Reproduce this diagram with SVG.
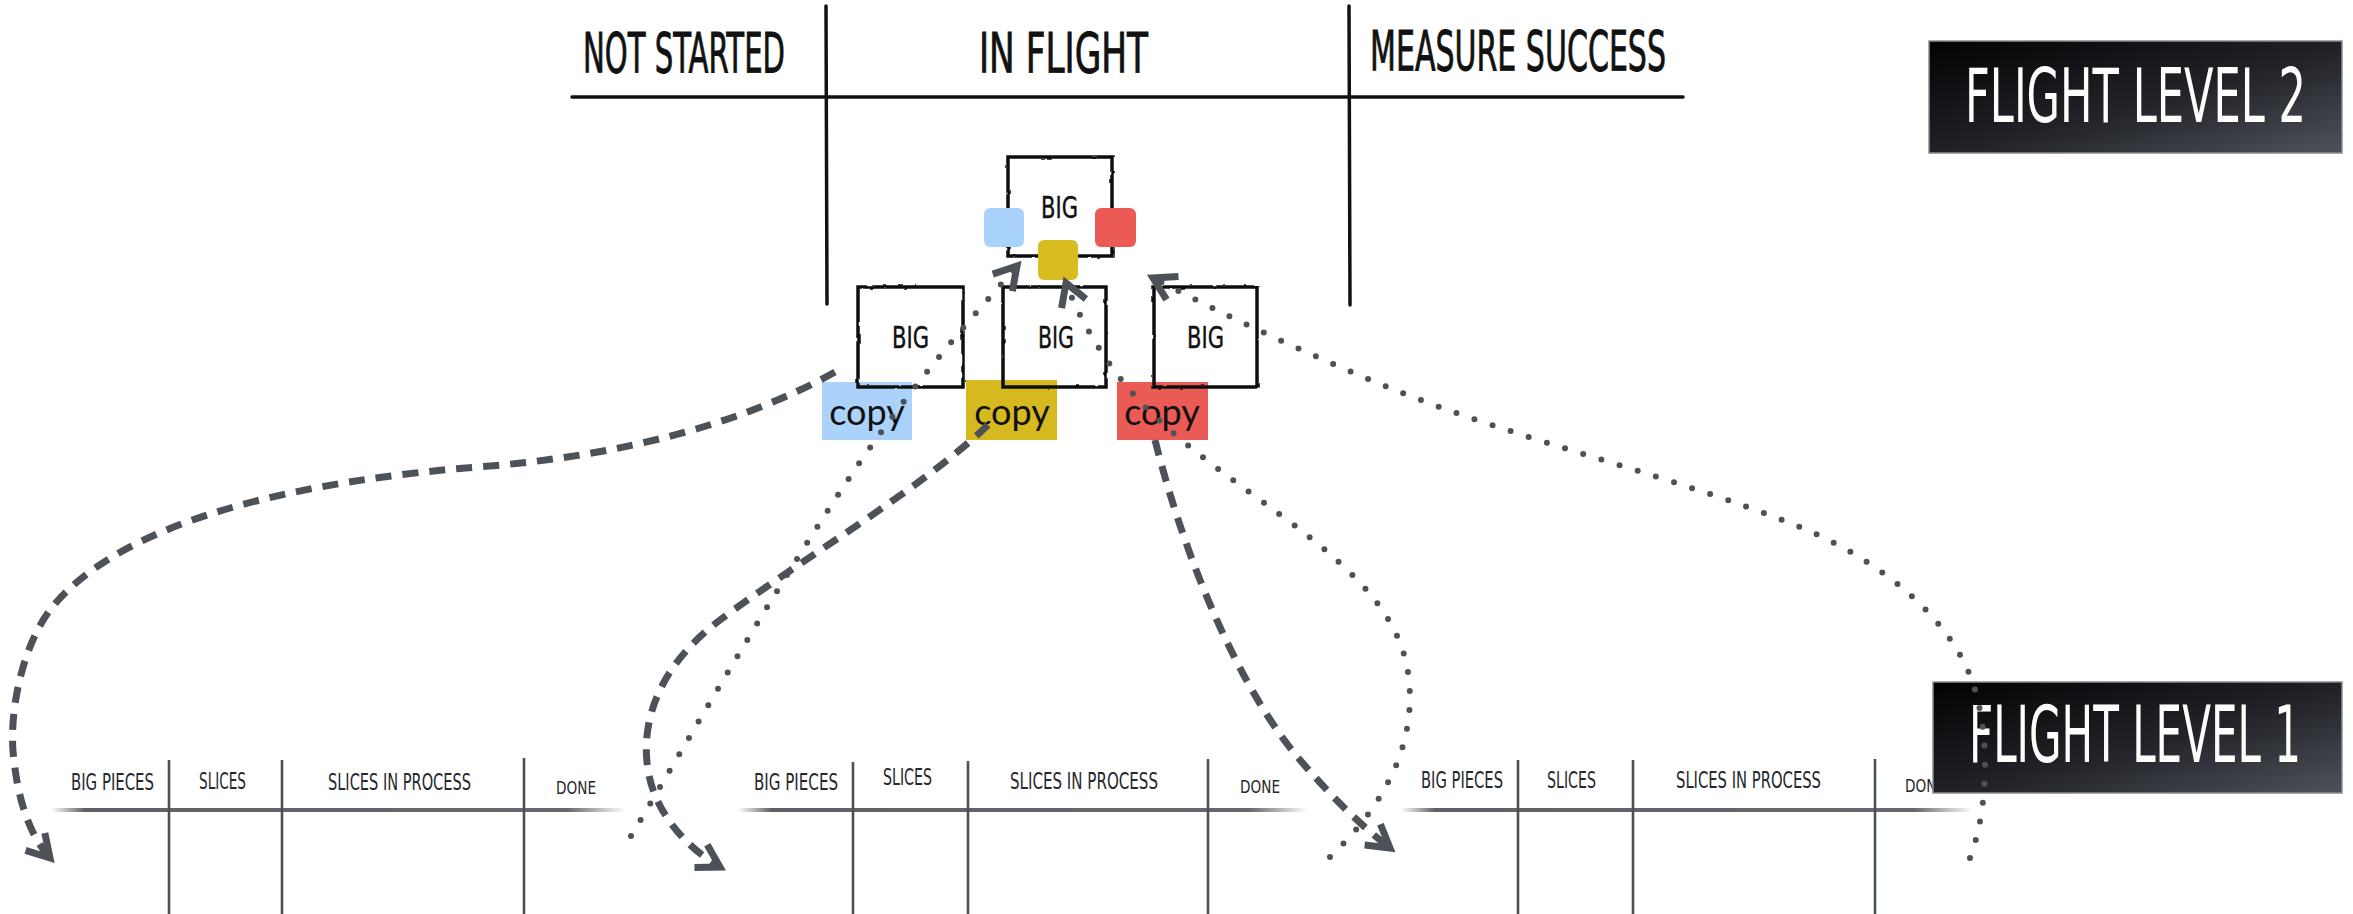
<svg xmlns="http://www.w3.org/2000/svg" width="2353" height="914" viewBox="0 0 2353 914">
  <defs>
    <style>
      .hand { font-family: "Liberation Sans Narrow", "DejaVu Sans Condensed", "Liberation Sans", sans-serif; }
      .hdr { font-size: 56px; fill: #111; stroke: #111; stroke-width: 0.9; }
      .lane-t { font-size: 23px; fill: #25282d; }
      .done-t { font-size: 17px; fill: #25282d; }
      .big-t { font-size: 30px; fill: #111; stroke: #111; stroke-width: 0.4; }
      .fl-t { fill: #fdfdfd; }
      .copy-t { font-family: Lato, "Liberation Sans", sans-serif; font-size: 36px; fill: #111; text-anchor: middle; }
      .box { fill: none; stroke: #111; stroke-width: 3.5; stroke-linejoin: miter; }
      .rule { stroke: #111; stroke-width: 3.5; stroke-linecap: round; fill: none; }
      .lane-v { stroke: #4b4f56; stroke-width: 2.6; fill: none; }
      .dash { fill: none; stroke: #4d5259; stroke-width: 7; stroke-dasharray: 16 11; marker-end: url(#chev); }
      .dot { fill: none; stroke: #4d5259; stroke-width: 6; stroke-linecap: round; stroke-dasharray: 0 19; marker-end: url(#chev); }
      .flbox { fill: url(#flGrad); stroke: #8a8d93; stroke-width: 1.5; }
    </style>
    <linearGradient id="flGrad" x1="0" y1="0" x2="1" y2="1">
      <stop offset="0" stop-color="#020203"/>
      <stop offset="0.55" stop-color="#222429"/>
      <stop offset="1" stop-color="#4e525a"/>
    </linearGradient>
    <linearGradient id="laneGrad" x1="0" y1="0" x2="1" y2="0">
      <stop offset="0" stop-color="#4b4f56" stop-opacity="0"/>
      <stop offset="0.06" stop-color="#4b4f56" stop-opacity="0.9"/>
      <stop offset="0.9" stop-color="#4b4f56" stop-opacity="0.85"/>
      <stop offset="1" stop-color="#4b4f56" stop-opacity="0"/>
    </linearGradient>
    <filter id="rough" x="-5%" y="-5%" width="110%" height="110%">
      <feTurbulence type="fractalNoise" baseFrequency="0.09" numOctaves="2" seed="4"/>
      <feDisplacementMap in="SourceGraphic" scale="2.5" xChannelSelector="R" yChannelSelector="G"/>
    </filter>
    <filter id="soft" x="-2%" y="-20%" width="104%" height="140%">
      <feGaussianBlur stdDeviation="0.7"/>
    </filter>
    <marker id="chev" markerUnits="userSpaceOnUse" viewBox="-32 -20 40 40" markerWidth="40" markerHeight="40" refX="0" refY="0" orient="auto" overflow="visible">
      <path d="M-22,-13 L0,0 L-22,13" fill="none" stroke="#4d5259" stroke-width="7" stroke-dasharray="none" stroke-linejoin="miter" stroke-linecap="butt"/>
    </marker>
  </defs>

  <rect x="0" y="0" width="2353" height="914" fill="#ffffff"/>

  <!-- Flight level 2 board: column headers and rules -->
  <g id="fl2-board">
    <path class="rule" d="M572,97 L1683,97" stroke-width="4.5"/>
    <path class="rule" d="M826,6 L827,304"/>
    <path class="rule" d="M1349,6 L1350,305"/>
    <text class="hand hdr" x="583" y="72" textLength="202" lengthAdjust="spacingAndGlyphs">NOT STARTED</text>
    <text class="hand hdr" x="979" y="72" textLength="169" lengthAdjust="spacingAndGlyphs">IN FLIGHT</text>
    <text class="hand hdr" x="1370" y="70" textLength="296" lengthAdjust="spacingAndGlyphs">MEASURE SUCCESS</text>
  </g>

  <!-- Flight level badges (labels drawn narrow via a horizontal squeeze) -->
  <g id="badge-fl2">
    <rect class="flbox" x="1929" y="41" width="413" height="112"/>
    <g transform="translate(1965,122) scale(0.5,1)">
      <text class="hand fl-t" x="0" y="0" font-size="74" textLength="682" lengthAdjust="spacingAndGlyphs">FLIGHT LEVEL 2</text>
    </g>
  </g>

  <!-- Big item in flight with its three slices -->
  <g id="big-top">
    <rect class="box" x="1008" y="157" width="104" height="99" filter="url(#rough)"/>
    <text class="hand big-t" x="1041" y="218" textLength="37" lengthAdjust="spacingAndGlyphs">BIG</text>
    <rect x="984" y="208" width="40" height="39" rx="6" fill="#a9d3fb"/>
    <rect x="1095" y="208" width="41" height="39" rx="6" fill="#eb5a55"/>
    <rect x="1038" y="240" width="40" height="40" rx="6" fill="#d8bc20"/>
  </g>

  <!-- Copies of the big item -->
  <g id="big-blue">
    <rect x="822" y="382" width="90" height="58" fill="#aad2fa"/>
    <rect class="box" x="858" y="287" width="105" height="100" filter="url(#rough)"/>
    <text class="hand big-t" x="892" y="348" textLength="37" lengthAdjust="spacingAndGlyphs">BIG</text>
    <text class="copy-t" x="867" y="425">copy</text>
  </g>
  <g id="big-yellow">
    <rect x="966" y="380" width="91" height="60" fill="#d6b91e"/>
    <rect class="box" x="1003" y="287" width="103" height="100" filter="url(#rough)"/>
    <text class="hand big-t" x="1038" y="348" textLength="36" lengthAdjust="spacingAndGlyphs">BIG</text>
    <text class="copy-t" x="1012" y="425">copy</text>
  </g>
  <g id="big-red">
    <rect x="1117" y="382" width="91" height="58" fill="#eb5b55"/>
    <rect class="box" x="1154" y="287" width="103" height="100" filter="url(#rough)"/>
    <text class="hand big-t" x="1187" y="348" textLength="37" lengthAdjust="spacingAndGlyphs">BIG</text>
    <text class="copy-t" x="1162" y="425">copy</text>
  </g>

  <!-- Flight level 1 boards -->
  <g id="lane-1">
    <rect x="51" y="808" width="574" height="4" fill="url(#laneGrad)" filter="url(#soft)"/>
    <g filter="url(#soft)">
      <path class="lane-v" d="M169,760 L169,914"/>
      <path class="lane-v" d="M282,760 L282,914"/>
      <path class="lane-v" d="M524,758 L524,914"/>
    </g>
    <text class="hand lane-t" x="71" y="790" textLength="83" lengthAdjust="spacingAndGlyphs">BIG PIECES</text>
    <text class="hand lane-t" x="199" y="789" textLength="47" lengthAdjust="spacingAndGlyphs">SLICES</text>
    <text class="hand lane-t" x="328" y="790" textLength="143" lengthAdjust="spacingAndGlyphs">SLICES IN PROCESS</text>
    <text class="hand done-t" x="556" y="794" textLength="40" lengthAdjust="spacingAndGlyphs">DONE</text>
  </g>
  <g id="lane-2">
    <rect x="738" y="808" width="569" height="4" fill="url(#laneGrad)" filter="url(#soft)"/>
    <g filter="url(#soft)">
      <path class="lane-v" d="M853,762 L853,914"/>
      <path class="lane-v" d="M968,761 L968,914"/>
      <path class="lane-v" d="M1208,759 L1208,914"/>
    </g>
    <text class="hand lane-t" x="754" y="790" textLength="84" lengthAdjust="spacingAndGlyphs">BIG PIECES</text>
    <text class="hand lane-t" x="883" y="785" textLength="49" lengthAdjust="spacingAndGlyphs">SLICES</text>
    <text class="hand lane-t" x="1010" y="789" textLength="148" lengthAdjust="spacingAndGlyphs">SLICES IN PROCESS</text>
    <text class="hand done-t" x="1240" y="793" textLength="40" lengthAdjust="spacingAndGlyphs">DONE</text>
  </g>
  <g id="lane-3">
    <rect x="1401" y="808" width="571" height="4" fill="url(#laneGrad)" filter="url(#soft)"/>
    <g filter="url(#soft)">
      <path class="lane-v" d="M1518,760 L1518,914"/>
      <path class="lane-v" d="M1633,760 L1633,914"/>
      <path class="lane-v" d="M1875,759 L1875,914"/>
    </g>
    <text class="hand lane-t" x="1421" y="788" textLength="82" lengthAdjust="spacingAndGlyphs">BIG PIECES</text>
    <text class="hand lane-t" x="1547" y="788" textLength="49" lengthAdjust="spacingAndGlyphs">SLICES</text>
    <text class="hand lane-t" x="1676" y="788" textLength="145" lengthAdjust="spacingAndGlyphs">SLICES IN PROCESS</text>
    <text class="hand done-t" x="1905" y="792" textLength="40" lengthAdjust="spacingAndGlyphs">DONE</text>
  </g>

  <g id="badge-fl1">
    <rect class="flbox" x="1933" y="682" width="409" height="111"/>
    <g transform="translate(1969,762) scale(0.5,1)">
      <text class="hand fl-t" x="0" y="0" font-size="78" textLength="664" lengthAdjust="spacingAndGlyphs">FLIGHT LEVEL 1</text>
    </g>
  </g>

  <!-- Connectors: dashed = copy handed down, dotted = progress reported up -->
  <g id="connectors">
    <path class="dash" d="M835,372 C740,425 620,455 490,466 C300,480 120,520 50,610 C20,650 8,720 14,760 C18,800 30,836 50,858"/>
    <path class="dash" d="M988,425 C920,490 800,560 720,620 C660,665 640,720 648,770 C655,815 690,850 720,867"/>
    <path class="dash" d="M1155,440 C1185,560 1240,690 1300,760 C1330,795 1360,825 1390,848"/>
    <path class="dot" d="M631,836 C700,720 780,580 860,462 C920,375 970,320 1017,266"/>
    <path class="dot" d="M1330,857 C1390,800 1415,740 1409,680 C1403,620 1360,575 1290,522 C1220,470 1160,430 1120,378 C1095,345 1078,315 1066,283"/>
    <path class="dot" d="M1970,858 C1988,810 1990,740 1975,690 C1955,620 1880,560 1800,527 C1680,478 1520,440 1400,392 C1320,360 1230,318 1153,278"/>
  </g>
</svg>
